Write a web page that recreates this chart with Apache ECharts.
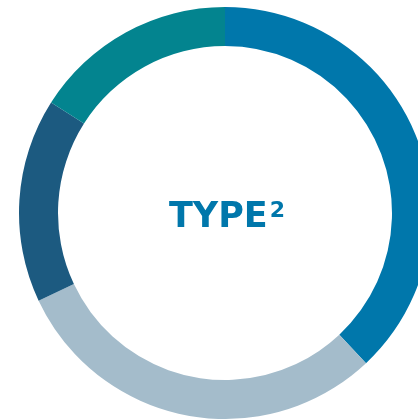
<!DOCTYPE html>
<html>
<head>
<meta charset="utf-8">
<script src="https://cdn.jsdelivr.net/npm/echarts@6/dist/echarts.min.js"></script>
<style>html,body{margin:0;padding:0;background:#fff;}#c{width:418px;height:419px;}</style>
</head>
<body>
<div id="c"></div>
<script>
const categories = ['Segment A', 'Segment B', 'Segment C', 'Segment D'];
const values = [38, 30, 16, 16];
const colors = ['#0077ab', '#a4bccb', '#1c5a80', '#03848f'];
const centerTitle = 'TYPE';
const centerSup = '2';

const chart = echarts.init(document.getElementById('c'), null, {renderer: 'canvas'});
chart.setOption({
  animation: false,
  backgroundColor: '#ffffff',
  title: {
    text: '{a|' + centerTitle + '}{b|' + centerSup + '}',
    left: 222,
    top: 213,
    textAlign: 'center',
    textVerticalAlign: 'middle',
    textStyle: {
      rich: {
        a: {fontFamily: 'DejaVu Sans', fontWeight: 'bold', fontSize: 35, lineHeight: 40, color: '#0077ab'},
        b: {fontFamily: 'DejaVu Sans', fontWeight: 'bold', fontSize: 22, lineHeight: 40, color: '#0077ab', padding: [0, 0, 14, 2]}
      }
    }
  },
  series: [{
    type: 'pie',
    center: [225, 213],
    radius: [167, 206],
    startAngle: 90,
    clockwise: true,
    label: {show: false},
    labelLine: {show: false},
    emphasis: {disabled: true},
    itemStyle: {borderWidth: 0},
    data: categories.map((n, i) => ({name: n, value: values[i], itemStyle: {color: colors[i]}}))
  }]
});
</script>
</body>
</html>
